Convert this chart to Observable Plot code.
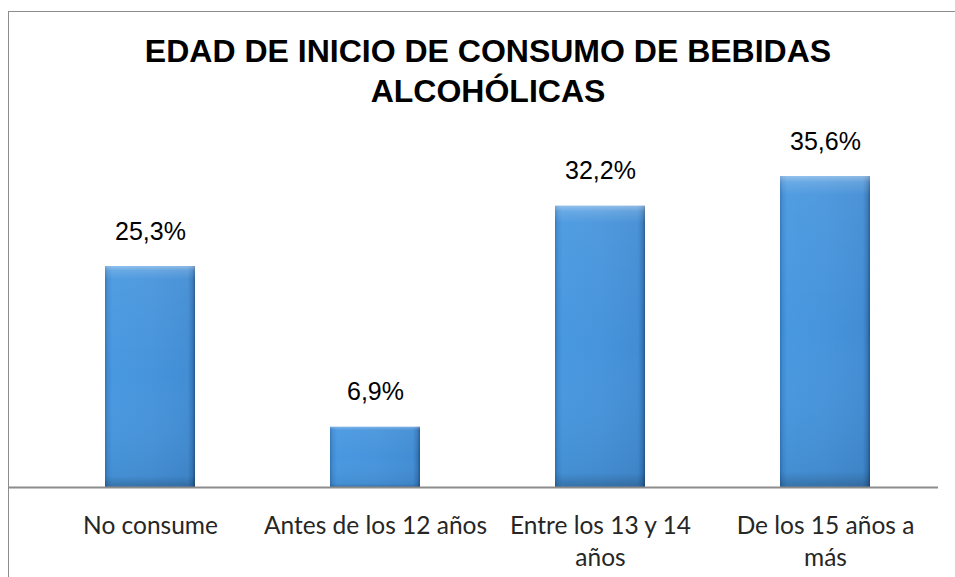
<!DOCTYPE html>
<html>
<head>
<meta charset="utf-8">
<script src="https://cdn.jsdelivr.net/npm/d3@7"></script>
<script src="https://cdn.jsdelivr.net/npm/@observablehq/plot@0.6"></script>
<style>
  html, body { margin: 0; padding: 0; background: #fff; overflow: hidden; }
  #wrap { position: relative; width: 955px; height: 577px; }
  #border { position: absolute; left: 8px; top: 11px; width: 980px; height: 600px; border: 1.5px solid #8c8c8c; box-sizing: border-box; pointer-events: none; }
  #title { position: absolute; left: 21px; width: 934px; top: 31px; text-align: center;
    font-family: "Liberation Sans", Arial, sans-serif; font-weight: bold; font-size: 32px; line-height: 40px; color: #000; }
  #chart { position: absolute; left: 0; top: 0; }
</style>
</head>
<body>
<div id="wrap">
  <div id="border"></div>
  <div id="chart"></div>
  <div id="title">EDAD DE INICIO DE CONSUMO DE BEBIDAS<br>ALCOHÓLICAS</div>
</div>
<script>
const categories = ["No consume", "Antes de los 12 años", "Entre los 13 y 14 años", "De los 15 años a más"];
const tickLabels = ["No consume", "Antes de los 12 años", "Entre los 13 y 14\naños", "De los 15 años a\nmás"];
const values = [25.3, 6.9, 32.2, 35.6];
const valueLabels = ["25,3%", "6,9%", "32,2%", "35,6%"];

const data = categories.map((c, i) => ({cat: c, value: values[i], label: valueLabels[i], tick: tickLabels[i]}));

const defs = () => {
  const g = d3.create("svg:defs");
  const h = g.append("linearGradient").attr("id", "barH").attr("x1", "0").attr("x2", "1").attr("y1", "0").attr("y2", "0");
  [["0%", "#2f74b8"], ["3%", "#3f8bd2"], ["8%", "#4898e0"], ["50%", "#4794dc"], ["92%", "#428dd4"], ["97%", "#3478bb"], ["100%", "#24578a"]]
    .forEach(([o, c]) => h.append("stop").attr("offset", o).attr("stop-color", c));
  const v = g.append("linearGradient").attr("id", "barV").attr("x1", "0").attr("x2", "0").attr("y1", "0").attr("y2", "1");
  [["0%", "#ffffff", 0.4], ["2%", "#ffffff", 0.18], ["6%", "#ffffff", 0.05], ["50%", "#ffffff", 0], ["95%", "#000000", 0.06], ["100%", "#000000", 0.25]]
    .forEach(([o, c, a]) => v.append("stop").attr("offset", o).attr("stop-color", c).attr("stop-opacity", a));
  return g.node();
};

const chart = Plot.plot({
  width: 955,
  height: 577,
  marginLeft: 37,
  marginRight: 17,
  marginTop: 137.6,
  marginBottom: 90,
  style: {background: "transparent", overflow: "visible"},
  x: {domain: categories, paddingInner: 0.6, paddingOuter: 0.3, axis: null},
  y: {domain: [0, 40], axis: null},
  marks: [
    defs,
    Plot.barY(data, {x: "cat", y: "value", fill: "url(#barH)"}),
    Plot.barY(data, {x: "cat", y: "value", fill: "url(#barV)"}),
    Plot.ruleY([0], {stroke: "#8c8c8c", strokeWidth: 2, insetLeft: -29}),
    Plot.text(data, {x: "cat", y: "value", text: "label", dy: -35, fontSize: 25, fill: "#000",
      fontFamily: "Liberation Sans, Arial, sans-serif", lineAnchor: "middle"}),
    Plot.text(data, {x: "cat", y: 0, text: "tick", dy: 23, fontSize: 24.5, lineHeight: 1.33, fill: "#262626",
      fontFamily: "Lato, sans-serif", lineAnchor: "top"})
  ]
});
document.getElementById("chart").appendChild(chart);
</script>
</body>
</html>
